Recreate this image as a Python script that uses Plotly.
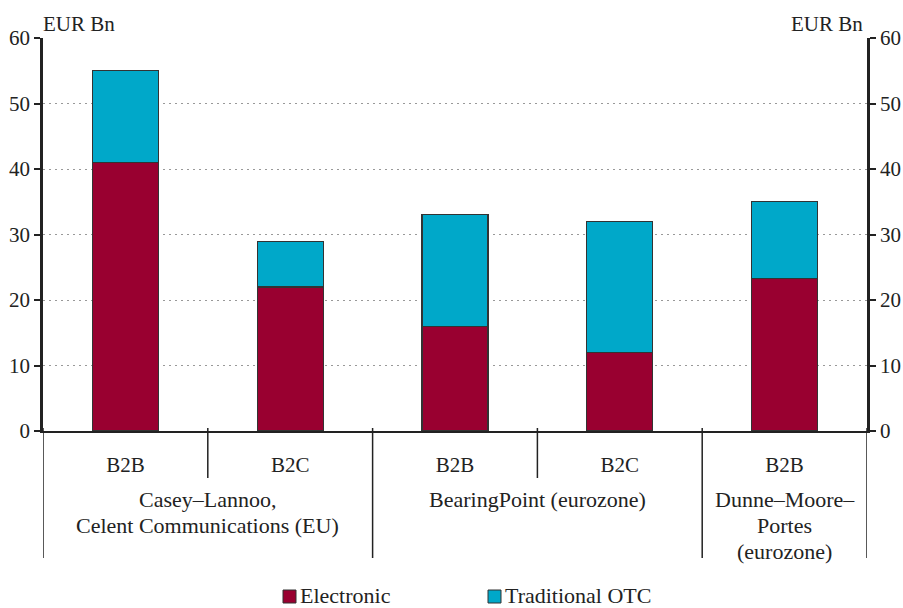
import plotly.graph_objects as go

sub_labels = ["B2B", "B2C", "B2B", "B2C", "B2B"]
electronic = [41, 22, 16, 12, 23.3]
traditional = [14, 6.9, 17, 20, 11.7]
series_names = ["Electronic", "Traditional OTC"]
group_labels = [["Casey–Lannoo,", "Celent Communications (EU)"],
                ["BearingPoint (eurozone)"],
                ["Dunne–Moore–", "Portes", "(eurozone)"]]
group_centers = [0.5, 2.5, 4]
y_ticks = [0, 10, 20, 30, 40, 50, 60]

FONT = "Liberation Serif, serif"
RED = "#990030"
BLUE = "#00A8C9"
colors = [RED, BLUE]

PL, PT, PW, PH = 43, 38, 824, 393  # plot area in px


def py(pix):
    return (PT + PH - pix) / PH


def px(pix):
    return (pix - PL) / PW


xs = list(range(len(sub_labels)))
fig = go.Figure()
for name, vals, col in zip(series_names, [electronic, traditional], colors):
    fig.add_trace(go.Bar(x=xs, y=vals, name=name, width=0.4,
                         marker=dict(color=col, line=dict(color="#333333", width=1.2))))
fig.add_trace(go.Scatter(x=[0], y=[0], yaxis="y2", mode="markers", marker=dict(opacity=0),
                         showlegend=False, hoverinfo="skip"))

fig.update_layout(
    barmode="stack",
    width=903, height=608,
    margin=dict(l=PL, r=903 - PL - PW, t=PT, b=608 - PT - PH, autoexpand=False),
    plot_bgcolor="white", paper_bgcolor="white",
    font=dict(family=FONT, size=21, color="#222222"),
    showlegend=False,
    xaxis=dict(range=[-0.5, 4.5], tickvals=xs, ticktext=sub_labels, showgrid=False, automargin=False,
               showline=True, linecolor="#222222", linewidth=2, ticks="", ticklabelstandoff=14,
               zeroline=False, fixedrange=True),
    yaxis=dict(range=[0, 60], tickvals=y_ticks, showgrid=True, gridcolor="#999999", griddash="2px,4px", gridwidth=1,
               showline=True, linecolor="#222222", linewidth=2.5, ticks="outside", ticklen=6, tickwidth=2,
               tickcolor="#222222", zeroline=False, automargin=False),
    yaxis2=dict(range=[0, 60], tickvals=y_ticks, overlaying="y", side="right", showgrid=False,
                showline=True, linecolor="#222222", linewidth=2.5, ticks="outside", ticklen=6, tickwidth=2,
                tickcolor="#222222", zeroline=False, automargin=False),
)

seps = [(-0.5, 558), (0.5, 478), (1.5, 558), (2.5, 478), (3.5, 558), (4.5, 558)]
for xv, yend in seps:
    fig.add_shape(type="line", xref="x", yref="paper", x0=xv, x1=xv, y0=py(428), y1=py(yend),
                  line=dict(color="#222222", width=1.5))

for lines, c in zip(group_labels, group_centers):
    for i, line in enumerate(lines):
        fig.add_annotation(x=c, xref="x", y=py(499 + 26 * i), yref="paper", text=line, showarrow=False,
                           yanchor="middle", font=dict(size=22), align="center")

leg_x = [283, 488]
for name, col, lx in zip(series_names, colors, leg_x):
    fig.add_shape(type="rect", xref="paper", yref="paper",
                  x0=px(lx), x1=px(lx + 13), y0=py(590), y1=py(603),
                  fillcolor=col, line=dict(color="#333333", width=1))
    fig.add_annotation(x=px(lx + 15), xref="paper", y=py(595), yref="paper",
                       text=name, showarrow=False, xanchor="left", yanchor="middle",
                       font=dict(size=22))

fig.add_annotation(x=0, xref="paper", y=1.0, yref="paper", text="EUR Bn", showarrow=False,
                   xanchor="left", yanchor="bottom", xshift=-2, font=dict(size=21))
fig.add_annotation(x=1, xref="paper", y=1.0, yref="paper", text="EUR Bn", showarrow=False,
                   xanchor="right", yanchor="bottom", xshift=-2, font=dict(size=21))

fig.write_html("out.html", config={"displayModeBar": False},
               post_script="document.body.style.margin='0px';document.body.style.padding='0px';")
